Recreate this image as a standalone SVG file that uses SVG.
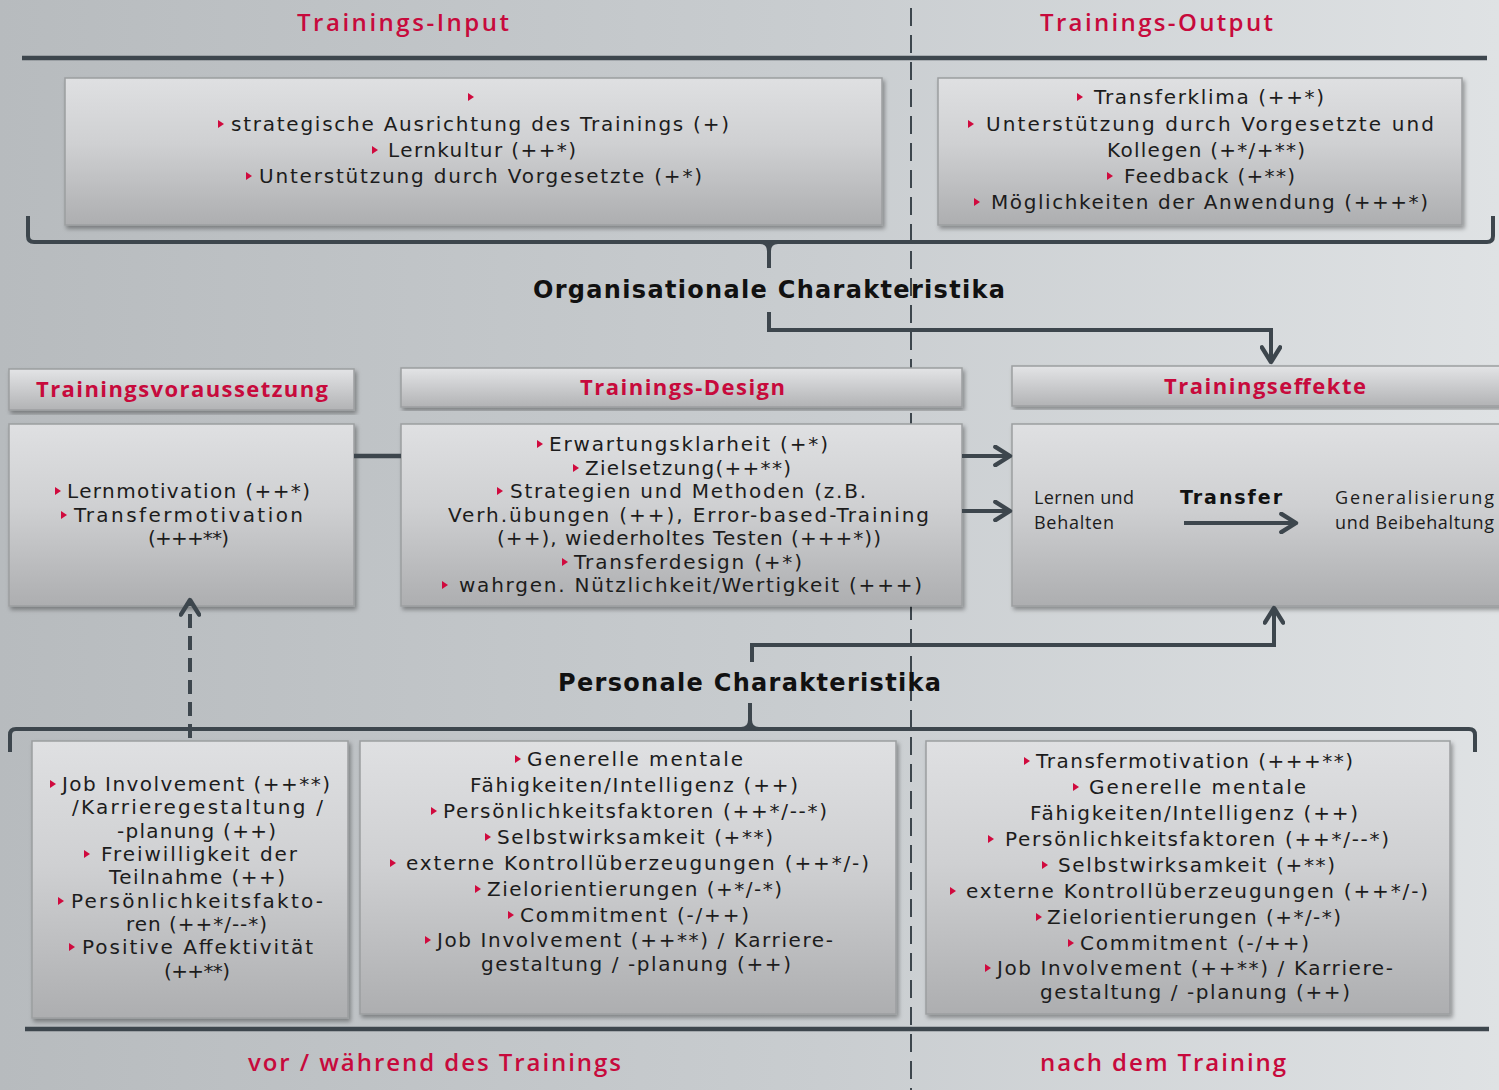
<svg xmlns="http://www.w3.org/2000/svg" xmlns:xlink="http://www.w3.org/1999/xlink" width="1499" height="1090" viewBox="0 0 1499 1090">
<defs>
<linearGradient id="bg" x1="0" y1="0" x2="1" y2="0">
<stop offset="0" stop-color="#b7bbbe"/>
<stop offset="0.55" stop-color="#c9cdd0"/>
<stop offset="1" stop-color="#dfe2e4"/>
</linearGradient>
<linearGradient id="box" x1="0" y1="0" x2="0" y2="1">
<stop offset="0" stop-color="#dfe0e2"/>
<stop offset="0.45" stop-color="#cfd0d2"/>
<stop offset="1" stop-color="#adaeb0"/>
</linearGradient>
<linearGradient id="hdr" x1="0" y1="0" x2="0" y2="1">
<stop offset="0" stop-color="#e3e4e6"/>
<stop offset="1" stop-color="#b2b3b5"/>
</linearGradient>
<filter id="sh" x="-5%" y="-5%" width="110%" height="115%">
<feDropShadow dx="2" dy="3" stdDeviation="2" flood-color="#000" flood-opacity="0.35"/>
</filter>
<path id="b" d="M0,-4 L6,0 L0,4 Z" fill="#d00a3e"/>
<marker id="arr" viewBox="0 0 12 12" refX="10" refY="6" markerWidth="22" markerHeight="22" orient="auto" markerUnits="userSpaceOnUse">
<path d="M2,1 L10,6 L2,11" fill="none" stroke="#3d464d" stroke-width="2.4" stroke-linecap="round" stroke-linejoin="round"/>
</marker>
<style>
.bx{fill:url(#box);stroke:#9c9ea0;stroke-width:1.5;filter:url(#sh)}
.hb{fill:url(#hdr);stroke:#9c9ea0;stroke-width:1.5;filter:url(#sh)}
.t{font-family:"DejaVu Sans","Open Sans",sans-serif;font-size:20px;fill:#1c1c1c}
.s{font-family:"Open Sans","DejaVu Sans",sans-serif;font-size:18px;fill:#1c1c1c}
.r{font-family:"Open Sans","DejaVu Sans",sans-serif;font-size:22px;font-weight:700;fill:#c70a3c}
.rl{font-family:"Open Sans","DejaVu Sans",sans-serif;font-size:24px;font-weight:600;fill:#c70a3c}
.k{font-family:"DejaVu Sans","Open Sans",sans-serif;font-size:24px;font-weight:700;fill:#111}
.ln{fill:none;stroke:#3d464d;stroke-width:4.5}
.cn{fill:none;stroke:#3d464d;stroke-width:4}
</style>
</defs>
<rect x="0" y="0" width="1499" height="1090" fill="url(#bg)"/>

<g id="frame">
<line x1="911" y1="8" x2="911" y2="1090" stroke="#3d464d" stroke-width="2" stroke-dasharray="18 9"/>
<line class="ln" x1="22" y1="58" x2="1487" y2="58"/>
<line class="ln" x1="25" y1="1029" x2="1489" y2="1029"/>
<text class="rl" x="297" y="31" textLength="212" lengthAdjust="spacing">Trainings-Input</text>
<text class="rl" x="1040" y="31" textLength="233" lengthAdjust="spacing">Trainings-Output</text>
<text class="rl" x="248" y="1071" textLength="373" lengthAdjust="spacing">vor / während des Trainings</text>
<text class="rl" x="1040" y="1071" textLength="246" lengthAdjust="spacing">nach dem Training</text>
</g>

<g id="n-input">
<rect class="bx" x="65" y="78" width="817" height="147"/>
<use href="#b" x="468" y="97"/>
<use href="#b" x="218" y="124"/>
<text class="t" x="231" y="131" textLength="498" lengthAdjust="spacing">strategische Ausrichtung des Trainings (+)</text>
<use href="#b" x="372" y="150"/>
<text class="t" x="388" y="157" textLength="188" lengthAdjust="spacing">Lernkultur (++*)</text>
<use href="#b" x="246" y="176"/>
<text class="t" x="259" y="183" textLength="443" lengthAdjust="spacing">Unterstützung durch Vorgesetzte (+*)</text>
</g>

<g id="n-output">
<rect class="bx" x="938" y="78" width="524" height="147"/>
<use href="#b" x="1077" y="97"/>
<text class="t" x="1094" y="104" textLength="230" lengthAdjust="spacing">Transferklima (++*)</text>
<use href="#b" x="968" y="124"/>
<text class="t" x="986" y="131" textLength="448" lengthAdjust="spacing">Unterstützung durch Vorgesetzte und</text>
<text class="t" x="1107" y="157" textLength="198" lengthAdjust="spacing">Kollegen (+*/+**)</text>
<use href="#b" x="1107" y="176"/>
<text class="t" x="1124" y="183" textLength="171" lengthAdjust="spacing">Feedback (+**)</text>
<use href="#b" x="974" y="202"/>
<text class="t" x="991" y="209" textLength="437" lengthAdjust="spacing">Möglichkeiten der Anwendung (+++*)</text>
</g>

<g id="label-org">
<text class="k" x="533" y="298" textLength="472" lengthAdjust="spacing">Organisationale Charakteristika</text>
</g>

<g id="n-voraussetzung">
<rect class="hb" x="9" y="369" width="345" height="41"/>
<text class="r" x="36" y="397" textLength="292" lengthAdjust="spacing">Trainingsvoraussetzung</text>
<rect class="bx" x="9" y="424" width="345" height="182"/>
<use href="#b" x="55" y="491"/>
<text class="t" x="67" y="498" textLength="243" lengthAdjust="spacing">Lernmotivation (++*)</text>
<use href="#b" x="61" y="515"/>
<text class="t" x="74" y="522" textLength="229" lengthAdjust="spacing">Transfermotivation</text>
<text class="t" x="148" y="545" textLength="81" lengthAdjust="spacing">(+++**)</text>
</g>

<g id="n-design">
<rect class="hb" x="401" y="368" width="561" height="39"/>
<text class="r" x="580" y="395" textLength="205" lengthAdjust="spacing">Trainings-Design</text>
<rect class="bx" x="401" y="424" width="561" height="182"/>
<use href="#b" x="537" y="444"/>
<text class="t" x="549" y="451" textLength="279" lengthAdjust="spacing">Erwartungsklarheit (+*)</text>
<use href="#b" x="573" y="468"/>
<text class="t" x="585" y="475" textLength="206" lengthAdjust="spacing">Zielsetzung(++**)</text>
<use href="#b" x="497" y="491"/>
<text class="t" x="510" y="498" textLength="356" lengthAdjust="spacing">Strategien und Methoden (z.B.</text>
<text class="t" x="448" y="522" textLength="481" lengthAdjust="spacing">Verh.übungen (++), Error-based-Training</text>
<text class="t" x="497" y="545" textLength="384" lengthAdjust="spacing">(++), wiederholtes Testen (+++*))</text>
<use href="#b" x="562" y="562"/>
<text class="t" x="574" y="569" textLength="228" lengthAdjust="spacing">Transferdesign (+*)</text>
<use href="#b" x="442" y="585"/>
<text class="t" x="459" y="592" textLength="463" lengthAdjust="spacing">wahrgen. Nützlichkeit/Wertigkeit (+++)</text>
</g>

<g id="n-effekte">
<rect class="hb" x="1012" y="366" width="497" height="40"/>
<text class="r" x="1164" y="394" textLength="202" lengthAdjust="spacing">Trainingseffekte</text>
<rect class="bx" x="1012" y="424" width="497" height="182"/>
<text class="s" x="1034" y="504" textLength="100" lengthAdjust="spacing">Lernen und</text>
<text class="s" x="1034" y="529" textLength="80" lengthAdjust="spacing">Behalten</text>
<text class="k" x="1180" y="504" textLength="102" lengthAdjust="spacing" style="font-size:19px">Transfer</text>
<path class="cn" d="M1184,523 H1296" marker-end="url(#arr)"/>
<text class="s" x="1335" y="504" textLength="159" lengthAdjust="spacing">Generalisierung</text>
<text class="s" x="1335" y="529" textLength="159" lengthAdjust="spacing">und Beibehaltung</text>
</g>

<g id="label-pers">
<text class="k" x="558" y="691" textLength="383" lengthAdjust="spacing">Personale Charakteristika</text>
</g>

<g id="n-pers-vor">
<rect class="bx" x="32" y="741" width="316" height="277"/>
<use href="#b" x="50" y="784"/>
<text class="t" x="62" y="791" textLength="268" lengthAdjust="spacing">Job Involvement (++**)</text>
<text class="t" x="72" y="814" textLength="251" lengthAdjust="spacing">/Karrieregestaltung /</text>
<text class="t" x="117" y="838" textLength="159" lengthAdjust="spacing">-planung (++)</text>
<use href="#b" x="84" y="854"/>
<text class="t" x="101" y="861" textLength="196" lengthAdjust="spacing">Freiwilligkeit der</text>
<text class="t" x="109" y="884" textLength="176" lengthAdjust="spacing">Teilnahme (++)</text>
<use href="#b" x="58" y="901"/>
<text class="t" x="71" y="908" textLength="252" lengthAdjust="spacing">Persönlichkeitsfakto-</text>
<text class="t" x="126" y="931" textLength="141" lengthAdjust="spacing">ren (++*/--*)</text>
<use href="#b" x="69" y="947"/>
<text class="t" x="82" y="954" textLength="231" lengthAdjust="spacing">Positive Affektivität</text>
<text class="t" x="164" y="978" textLength="66" lengthAdjust="spacing">(++**)</text>
</g>

<g id="n-pers-waehrend">
<rect class="bx" x="360" y="741" width="536" height="273"/>
<use href="#b" x="515" y="759"/>
<text class="t" x="527" y="766" textLength="216" lengthAdjust="spacing">Generelle mentale</text>
<text class="t" x="470" y="792" textLength="328" lengthAdjust="spacing">Fähigkeiten/Intelligenz (++)</text>
<use href="#b" x="431" y="811"/>
<text class="t" x="443" y="818" textLength="384" lengthAdjust="spacing">Persönlichkeitsfaktoren (++*/--*)</text>
<use href="#b" x="485" y="837"/>
<text class="t" x="497" y="844" textLength="276" lengthAdjust="spacing">Selbstwirksamkeit (+**)</text>
<use href="#b" x="390" y="863"/>
<text class="t" x="406" y="870" textLength="463" lengthAdjust="spacing">externe Kontrollüberzeugungen (++*/-)</text>
<use href="#b" x="475" y="889"/>
<text class="t" x="487" y="896" textLength="295" lengthAdjust="spacing">Zielorientierungen (+*/-*)</text>
<use href="#b" x="508" y="915"/>
<text class="t" x="520" y="922" textLength="229" lengthAdjust="spacing">Commitment (-/++)</text>
<use href="#b" x="425" y="940"/>
<text class="t" x="437" y="947" textLength="396" lengthAdjust="spacing">Job Involvement (++**) / Karriere-</text>
<text class="t" x="481" y="971" textLength="310" lengthAdjust="spacing">gestaltung / -planung (++)</text>
</g>

<g id="n-pers-nach">
<rect class="bx" x="926" y="741" width="524" height="273"/>
<use href="#b" x="1024" y="761"/>
<text class="t" x="1036" y="768" textLength="317" lengthAdjust="spacing">Transfermotivation (+++**)</text>
<use href="#b" x="1073" y="787"/>
<text class="t" x="1089" y="794" textLength="217" lengthAdjust="spacing">Generelle mentale</text>
<text class="t" x="1030" y="820" textLength="328" lengthAdjust="spacing">Fähigkeiten/Intelligenz (++)</text>
<use href="#b" x="988" y="839"/>
<text class="t" x="1005" y="846" textLength="384" lengthAdjust="spacing">Persönlichkeitsfaktoren (++*/--*)</text>
<use href="#b" x="1042" y="865"/>
<text class="t" x="1058" y="872" textLength="277" lengthAdjust="spacing">Selbstwirksamkeit (+**)</text>
<use href="#b" x="950" y="891"/>
<text class="t" x="966" y="898" textLength="462" lengthAdjust="spacing">externe Kontrollüberzeugungen (++*/-)</text>
<use href="#b" x="1036" y="917"/>
<text class="t" x="1047" y="924" textLength="294" lengthAdjust="spacing">Zielorientierungen (+*/-*)</text>
<use href="#b" x="1068" y="943"/>
<text class="t" x="1080" y="950" textLength="229" lengthAdjust="spacing">Commitment (-/++)</text>
<use href="#b" x="985" y="968"/>
<text class="t" x="997" y="975" textLength="396" lengthAdjust="spacing">Job Involvement (++**) / Karriere-</text>
<text class="t" x="1040" y="999" textLength="310" lengthAdjust="spacing">gestaltung / -planung (++)</text>
</g>

<g id="connectors">
<path class="cn" d="M28,216 V236 Q28,242 34,242 H1487 Q1493,242 1493,236 V216"/>
<path class="cn" d="M760,242 Q769,242 769,251 V268"/>
<path class="cn" d="M778,242 Q769,242 769,251"/>
<path class="cn" d="M769,312 V330 H1271 V362" marker-end="url(#arr)"/>
<path class="cn" d="M752,662 V645 H1274 V608" marker-end="url(#arr)"/>
<path class="cn" d="M10,752 V735 Q10,729 16,729 H1469 Q1475,729 1475,735 V752"/>
<path class="cn" d="M741,729 Q750,729 750,720 V703"/>
<path class="cn" d="M759,729 Q750,729 750,720"/>
<path class="cn" d="M190,738 V600" stroke-dasharray="14 8" marker-end="url(#arr)"/>
<line class="ln" x1="354" y1="456" x2="401" y2="456"/>
<path class="cn" d="M962,456 H1010" marker-end="url(#arr)"/>
<path class="cn" d="M962,511 H1010" marker-end="url(#arr)"/>
</g>
</svg>
